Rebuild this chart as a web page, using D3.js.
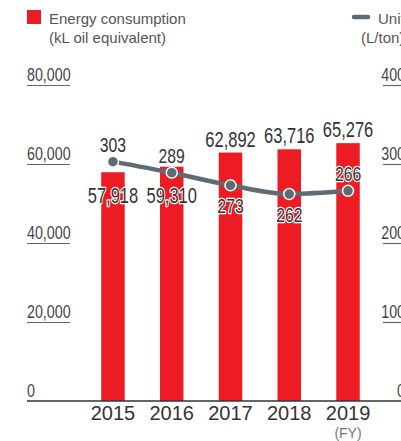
<!DOCTYPE html>
<html>
<head>
<meta charset="utf-8">
<script src="https://cdn.jsdelivr.net/npm/d3@7"></script>
<style>
  body { margin: 0; background: #fff; }
</style>
</head>
<body>
<div id="chart"></div>
<script>
// data
var years = ["2015", "2016", "2017", "2018", "2019"];
var energy = [57918, 59310, 62892, 63716, 65276];
var unitUse = [303, 289, 273, 262, 266];
var leftTicks = [0, 20000, 40000, 60000, 80000];
var rightTicks = [0, 100, 200, 300, 400];

// where each label sits relative to its mark
var barLabelSide = ["in", "in", "out", "out", "out"];
var lineLabelSide = ["up", "up", "down", "down", "up"];

var width = 401,
    height = 441;

var red = "#ed1c24",
    grey = "#5e6b73",
    textDark = "#333";

var svg = d3.select("#chart")
    .append("svg")
    .attr("width", width)
    .attr("height", height)
    .attr("font-family", "'Liberation Sans', Arial, sans-serif");

var x = d3.scaleBand()
    .domain(years)
    .range([83.6, 377.4])
    .paddingInner(0.6)
    .paddingOuter(0.3);

var y = d3.scaleLinear().domain([0, 80000]).range([401, 85]);
var y2 = d3.scaleLinear().domain([0, 400]).range([401, 85]);

var fmt = d3.format(",");

// narrow text: the source uses a condensed face
function narrow(sel, px, py, str, size, anchor, color, halo) {
    var g = sel.append("g")
        .attr("transform", "translate(" + px + "," + py + ") scale(0.75,1)");
    var t = g.append("text")
        .attr("font-size", size)
        .attr("text-anchor", anchor)
        .attr("fill", color)
        .text(str);
    if (halo) {
        t.attr("stroke", "#fff")
         .attr("stroke-width", 2.5)
         .attr("stroke-linejoin", "round")
         .attr("paint-order", "stroke");
    }
    return t;
}

// Legend

svg.append("rect")
    .attr("x", 27).attr("y", 10)
    .attr("width", 14).attr("height", 14)
    .attr("fill", red);

var leg = svg.append("text")
    .attr("font-size", 15)
    .attr("fill", "#555");
leg.append("tspan").attr("x", 49).attr("y", 24).text("Energy consumption");
leg.append("tspan").attr("x", 49).attr("y", 43).text("(kL oil equivalent)");

svg.append("line")
    .attr("x1", 354).attr("x2", 368)
    .attr("y1", 17).attr("y2", 17)
    .attr("stroke", grey)
    .attr("stroke-width", 4.5)
    .attr("stroke-linecap", "round");

var leg2 = svg.append("text")
    .attr("font-size", 15)
    .attr("fill", "#555");
leg2.append("tspan").attr("x", 378).attr("y", 24).text("Unit energy consumption");
leg2.append("tspan").attr("x", 361).attr("y", 43).text("(L/ton)");

// Axes: underlined tick labels

var axisG = svg.append("g");

leftTicks.forEach(function(t) {
    narrow(axisG, 27, y(t) - 4, fmt(t), 19, "start", "#444");
    if (t > 0) {
        axisG.append("line")
            .attr("x1", 27).attr("x2", 70)
            .attr("y1", y(t) + 0.5).attr("y2", y(t) + 0.5)
            .attr("stroke", "#666").attr("stroke-width", 1.2);
    }
});

rightTicks.forEach(function(t) {
    narrow(axisG, 405, y2(t) - 4, fmt(t), 19, "end", "#444");
    if (t > 0) {
        axisG.append("line")
            .attr("x1", 383).attr("x2", 405)
            .attr("y1", y2(t) + 0.5).attr("y2", y2(t) + 0.5)
            .attr("stroke", "#666").attr("stroke-width", 1.2);
    }
});

// Bars

svg.append("g").selectAll("rect")
    .data(energy)
    .enter().append("rect")
    .attr("x", function(d, i) { return x(years[i]); })
    .attr("y", function(d) { return y(d); })
    .attr("width", x.bandwidth())
    .attr("height", function(d) { return y(0) - y(d); })
    .attr("fill", red);

// baseline
svg.append("line")
    .attr("x1", 27).attr("x2", 401)
    .attr("y1", 401).attr("y2", 401)
    .attr("stroke", "#333")
    .attr("stroke-width", 1.5);

// Year labels

var yearG = svg.append("g");
years.forEach(function(yr) {
    yearG.append("text")
        .attr("x", x(yr) + x.bandwidth() / 2)
        .attr("y", 420)
        .attr("text-anchor", "middle")
        .attr("font-size", 20)
        .attr("fill", "#333")
        .text(yr);
});
yearG.append("text")
    .attr("x", x(years[4]) + x.bandwidth() / 2)
    .attr("y", 438)
    .attr("text-anchor", "middle")
    .attr("font-size", 14)
    .attr("fill", "#777")
    .text("(FY)");

// Line

var cx = function(i) { return x(years[i]) + x.bandwidth() / 2; };

var line = d3.line()
    .x(function(d, i) { return cx(i); })
    .y(function(d) { return y2(d); })
    .curve(d3.curveMonotoneX);

svg.append("path")
    .datum(unitUse)
    .attr("d", line)
    .attr("fill", "none")
    .attr("stroke", grey)
    .attr("stroke-width", 4.5);

svg.append("g").selectAll("circle")
    .data(unitUse)
    .enter().append("circle")
    .attr("cx", function(d, i) { return cx(i); })
    .attr("cy", function(d) { return y2(d); })
    .attr("r", 5.5)
    .attr("fill", grey)
    .attr("stroke", "#fff")
    .attr("stroke-width", 1.5);

// Value labels

var labG = svg.append("g");

energy.forEach(function(v, i) {
    var py = barLabelSide[i] === "in" ? 203 : y(v) - 6;
    narrow(labG, cx(i), py, fmt(v), 22, "middle", textDark, true);
});

unitUse.forEach(function(v, i) {
    var py = lineLabelSide[i] === "up" ? y2(v) - 10 : y2(v) + 28;
    narrow(labG, cx(i), py, v, 21, "middle", textDark, true);
});
</script>
</body>
</html>
